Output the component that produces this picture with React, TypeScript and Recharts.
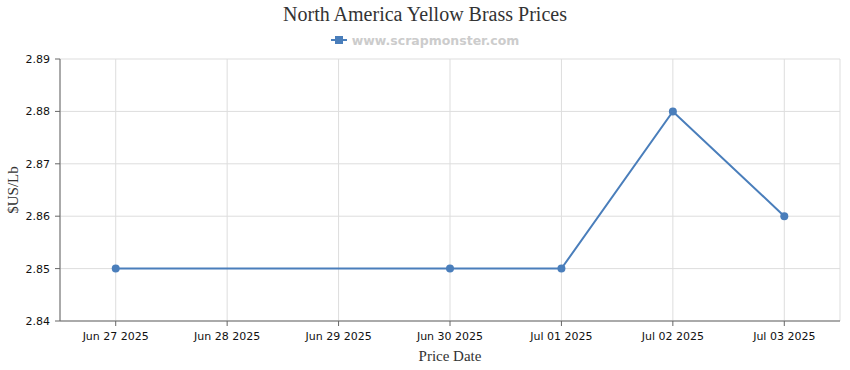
import React from 'react';
import { LineChart, Line, XAxis, YAxis, CartesianGrid, Legend, Label } from 'recharts';

const dates = ['Jun 27 2025', 'Jun 28 2025', 'Jun 29 2025', 'Jun 30 2025', 'Jul 01 2025', 'Jul 02 2025', 'Jul 03 2025'];
const prices: (number | null)[] = [2.85, null, null, 2.85, 2.85, 2.88, 2.86];
const yTicks = [2.84, 2.85, 2.86, 2.87, 2.88, 2.89];

const LINE_COLOR = '#4a7ebb';
const SANS = 'Tahoma, "DejaVu Sans", sans-serif';
const SERIF = '"Times New Roman", "Liberation Serif", serif';

const chartData = dates.map((date, i) => ({ date, price: prices[i] }));

const LegendBox = () => (
  <div style={{ display: 'flex', justifyContent: 'center', alignItems: 'center', gap: 5, height: 14 }}>
    <svg width={16} height={10}>
      <line x1={0} y1={5} x2={16} y2={5} stroke={LINE_COLOR} strokeWidth={2} />
      <rect x={4} y={1} width={8} height={8} fill={LINE_COLOR} />
    </svg>
    <span style={{ fontFamily: SANS, fontSize: 12.5, fontWeight: 'bold', color: '#cccccc' }}>www.scrapmonster.com</span>
  </div>
);

export default function App() {
  return (
    <div style={{ position: 'absolute', left: 0, top: 0, width: 850, height: 370, background: '#fff' }}>
      <div
        style={{
          position: 'absolute', top: 3, left: 0, width: 850, textAlign: 'center',
          fontFamily: SERIF, fontSize: 20, color: '#333',
        }}
      >
        North America Yellow Brass Prices
      </div>
      <LineChart width={850} height={370} data={chartData} margin={{ top: 45, right: 10, bottom: 19, left: 0 }}>
        <CartesianGrid stroke="#dddddd" />
        <Legend verticalAlign="top" height={14} content={<LegendBox />} wrapperStyle={{ top: 33, left: 0, width: 850 }} />
        <XAxis
          dataKey="date"
          scale="band"
          height={30}
          stroke="#666"
          tickSize={5}
          tickMargin={6}
          tick={{ fill: '#111', fontFamily: SANS, fontSize: 11 }}
        >
          <Label value="Price Date" position="insideBottom" offset={-10} style={{ fontFamily: SERIF, fontSize: 15, fill: '#333' }} />
        </XAxis>
        <YAxis
          width={60}
          domain={[2.84, 2.89]}
          ticks={yTicks}
          tickFormatter={(v: number) => v.toFixed(2)}
          stroke="#666"
          tickSize={5}
          tickMargin={5}
          tick={{ fill: '#111', fontFamily: SANS, fontSize: 11 }}
        >
          <Label value="$US/Lb" angle={-90} position="insideLeft" dx={8} style={{ textAnchor: 'middle', fontFamily: SERIF, fontSize: 15, fill: '#333' }} />
        </YAxis>
        <Line
          type="linear"
          dataKey="price"
          stroke={LINE_COLOR}
          strokeWidth={2}
          connectNulls
          dot={{ r: 4, fill: LINE_COLOR, stroke: LINE_COLOR, strokeWidth: 0 }}
          isAnimationActive={false}
        />
      </LineChart>
    </div>
  );
}
